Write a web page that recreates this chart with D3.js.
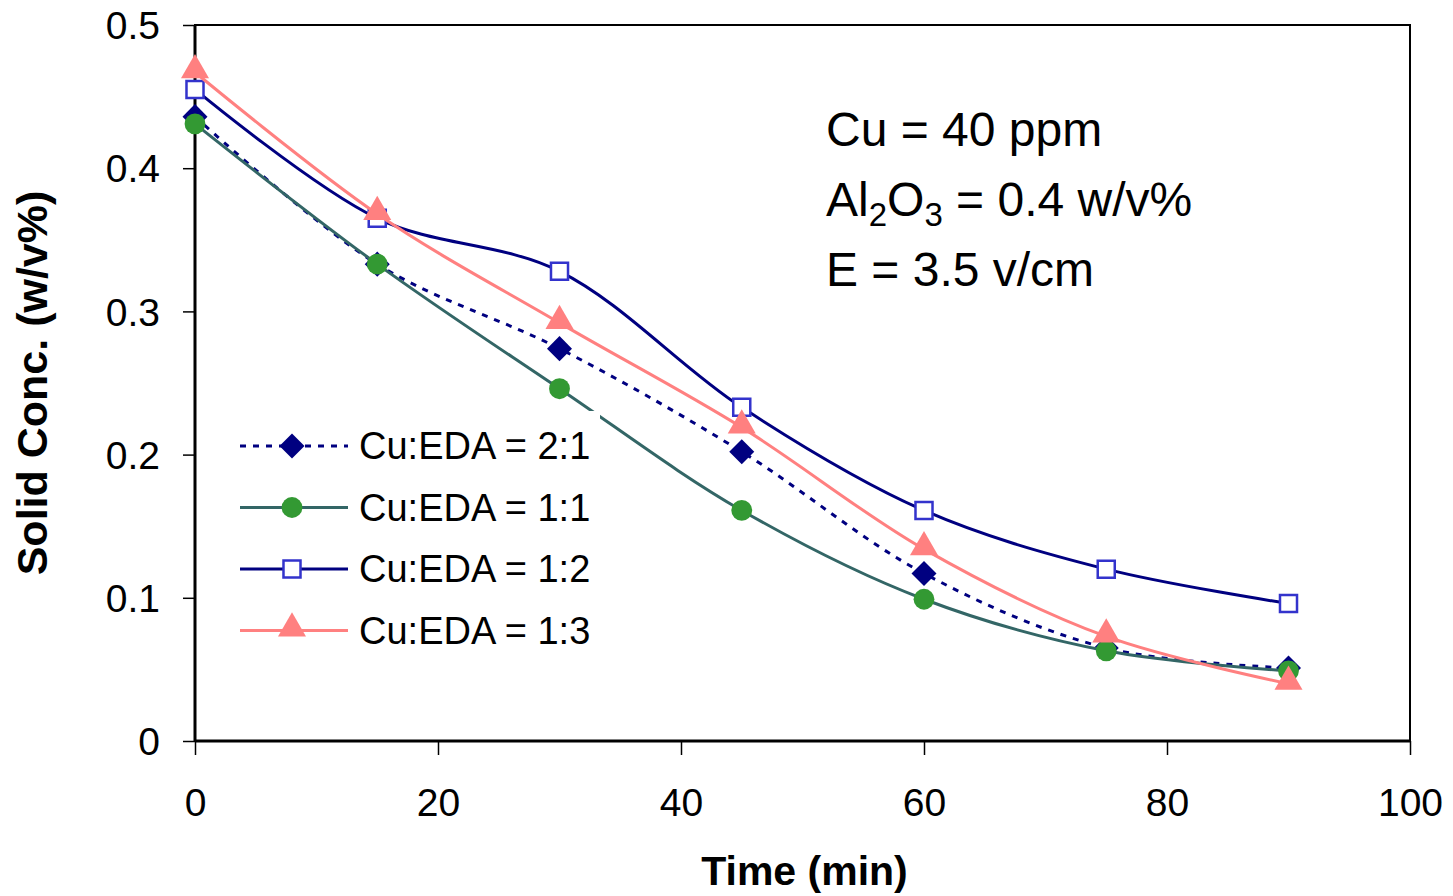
<!DOCTYPE html>
<html>
<head>
<meta charset="utf-8">
<script src="https://cdn.jsdelivr.net/npm/d3@7"></script>
<style>
  body { margin: 0; background: #fff; }
  svg text { font-family: Arial, "Liberation Sans", sans-serif; }
</style>
</head>
<body>
<div id="chart"></div>
<script>
// data
var times = [0, 15, 30, 45, 60, 75, 90];
var seriesNames = ["Cu:EDA = 2:1", "Cu:EDA = 1:1", "Cu:EDA = 1:2", "Cu:EDA = 1:3"];
var eda21 = [0.436, 0.333, 0.274, 0.202, 0.117, 0.065, 0.051];
var eda11 = [0.431, 0.333, 0.246, 0.161, 0.099, 0.063, 0.049];
var eda12 = [0.455, 0.365, 0.328, 0.233, 0.161, 0.120, 0.096];
var eda13 = [0.467, 0.368, 0.292, 0.219, 0.134, 0.073, 0.040];
var xTicks = [0, 20, 40, 60, 80, 100];
var yTicks = [0, 0.1, 0.2, 0.3, 0.4, 0.5];

var margin = {top: 25, right: 43, bottom: 155, left: 195},
    width = 1453 - margin.left - margin.right,
    height = 896 - margin.top - margin.bottom;

var svg = d3.select("#chart").append("svg")
    .attr("width", 1453)
    .attr("height", 896)
  .append("g")
    .attr("transform", "translate(" + margin.left + "," + margin.top + ")");

var x = d3.scaleLinear().domain([0, 100]).range([0, width]);
var y = d3.scaleLinear().domain([0, 0.5]).range([height, 0]);

// plot frame
svg.append("rect")
    .attr("width", width).attr("height", height)
    .style("fill", "none").style("stroke", "#000").style("stroke-width", 2);

var xAxis = d3.axisBottom(x).tickValues(xTicks).tickSize(14).tickFormat(d3.format("d"));
var yAxis = d3.axisLeft(y).tickValues(yTicks).tickSize(12).tickFormat(function(d){ return d === 0 ? "0" : d3.format(".1f")(d); });

var gx = svg.append("g").attr("transform", "translate(0," + height + ")").call(xAxis);
gx.select(".domain").attr("d", "M0,0H" + width).style("stroke-width", 3);
gx.selectAll(".tick line").style("stroke-width", 1.5);
gx.selectAll("text").style("font-size", "39px").attr("y", 47).attr("dy", "0.71em").style("fill", "#000");

var gy = svg.append("g").call(yAxis);
gy.select(".domain").attr("d", "M0,0V" + height).style("stroke-width", 3);
gy.selectAll(".tick line").style("stroke-width", 1.5);
gy.selectAll("text").style("font-size", "39px").attr("x", -35).attr("dy", "0.35em").style("fill", "#000");

// axis titles
svg.append("text")
    .attr("x", width / 2 + 2).attr("y", height + 144)
    .style("text-anchor", "middle").style("font-weight", "bold").style("font-size", "41px")
    .text("Time (min)");

svg.append("text")
    .attr("transform", "translate(" + (-148) + "," + (height / 2) + ") rotate(-90)")
    .style("text-anchor", "middle").style("font-weight", "bold").style("font-size", "43px")
    .text("Solid Conc. (w/v%)");

var styles = [
  {values: eda21, line: "#000080", dash: "6,7", marker: "diamond", fill: "#000080", stroke: "none"},
  {values: eda11, line: "#336666", dash: null, marker: "circle", fill: "#339933", stroke: "none"},
  {values: eda12, line: "#000080", dash: null, marker: "square", fill: "#fff", stroke: "#3333CC"},
  {values: eda13, line: "#FF8080", dash: null, marker: "triangle", fill: "#FF8080", stroke: "none"}
];

var symbols = {
  diamond: d3.symbol().type(d3.symbolDiamond2).size(400),
  circle: d3.symbol().type(d3.symbolCircle).size(340),
  square: d3.symbol().type(d3.symbolSquare).size(290),
  triangle: d3.symbol().type(d3.symbolTriangle).size(340)
};

var line = d3.line()
    .x(function(d){ return x(d[0]); })
    .y(function(d){ return y(d[1]); })
    .curve(d3.curveCatmullRom);

styles.forEach(function(s){
  var pts = times.map(function(t, i){ return [t, s.values[i]]; });
  svg.append("path")
      .datum(pts)
      .attr("d", line)
      .style("fill", "none")
      .style("stroke", s.line)
      .style("stroke-width", 3)
      .style("stroke-dasharray", s.dash);

  svg.selectAll(null).data(pts).enter().append("path")
      .attr("transform", function(d){
        var dy = s.marker === "triangle" ? -2 : 0;
        return "translate(" + x(d[0]) + "," + (y(d[1]) + dy) + ")";
      })
      .attr("d", symbols[s.marker])
      .style("fill", s.fill)
      .style("stroke", s.stroke)
      .style("stroke-width", 2.5);
});

// legend (white box hides lines behind it)
var legend = svg.append("g").attr("transform", "translate(40,386)");
legend.append("rect")
    .attr("x", 0).attr("y", 0).attr("width", 365).attr("height", 260)
    .style("fill", "#fff");

var rows = legend.selectAll("g.row").data(styles).enter().append("g")
    .attr("class", "row")
    .attr("transform", function(d, i){ return "translate(0," + (35 + i * 61.5) + ")"; });

rows.append("line")
    .attr("x1", 5).attr("x2", 113).attr("y1", 0).attr("y2", 0)
    .style("stroke", function(d){ return d.line; })
    .style("stroke-width", 3)
    .style("stroke-dasharray", function(d){ return d.dash; });

rows.append("path")
    .attr("transform", function(d){ return "translate(57," + (d.marker === "triangle" ? -2 : 0) + ")"; })
    .attr("d", function(d){ return symbols[d.marker](); })
    .style("fill", function(d){ return d.fill; })
    .style("stroke", function(d){ return d.stroke; })
    .style("stroke-width", 2.5);

rows.append("text")
    .attr("x", 124).attr("dy", "0.35em")
    .style("font-size", "38px")
    .text(function(d, i){ return seriesNames[i]; });

// conditions annotation
var note = svg.append("g").attr("transform", "translate(631,0)").style("font-size", "48px");
note.append("text").attr("y", 121).text("Cu = 40 ppm");
var al = note.append("text").attr("y", 191);
al.append("tspan").text("Al");
al.append("tspan").attr("dy", 10).style("font-size", "33px").text("2");
al.append("tspan").attr("dy", -10).text("O");
al.append("tspan").attr("dy", 10).style("font-size", "33px").text("3");
al.append("tspan").attr("dy", -10).text(" = 0.4 w/v%");
note.append("text").attr("y", 261).text("E = 3.5 v/cm");
</script>
</body>
</html>
